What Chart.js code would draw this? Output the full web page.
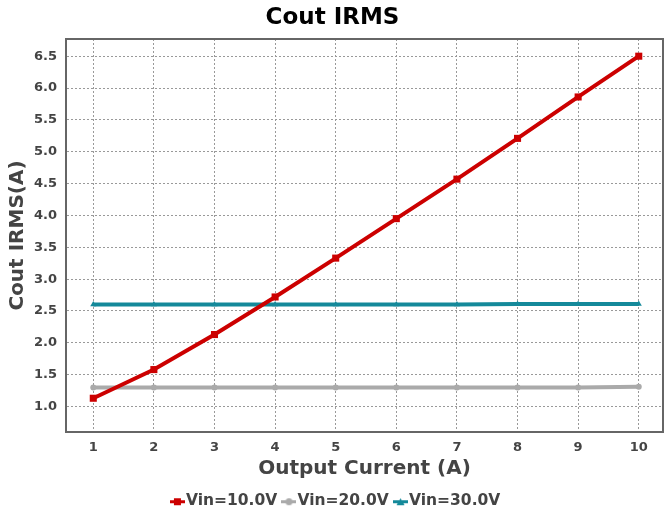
<!DOCTYPE html>
<html>
<head>
<meta charset="utf-8">
<script src="https://cdn.jsdelivr.net/npm/chart.js@4"></script>
<style>
  html, body { margin: 0; padding: 0; background: #fff; }
  #wrap { width: 664px; height: 515px; }
</style>
</head>
<body>
<div id="wrap"><canvas id="c"></canvas></div>
<script>
// 输出电流 (A)
const currents = [1, 2, 3, 4, 5, 6, 7, 8, 9, 10];
// 各输入电压下的输出电容 RMS 电流
const vin10 = [1.13, 1.58, 2.13, 2.72, 3.33, 3.95, 4.57, 5.21, 5.86, 6.50];
const vin20 = [1.30, 1.30, 1.30, 1.30, 1.30, 1.30, 1.30, 1.30, 1.30, 1.31];
const vin30 = [2.60, 2.60, 2.60, 2.60, 2.60, 2.60, 2.60, 2.61, 2.61, 2.61];
const yTicks = [1.0, 1.5, 2.0, 2.5, 3.0, 3.5, 4.0, 4.5, 5.0, 5.5, 6.0, 6.5];

const FONT = "'DejaVu Sans', sans-serif";
const INK = "#444";

function pts(ys) {
  return currents.map((x, i) => ({ x: x, y: ys[i] }));
}

// 图例图标:短线 + 中间的标记
function legendIcon(color, shape) {
  const cv = document.createElement("canvas");
  cv.width = 15; cv.height = 10;
  const g = cv.getContext("2d");
  g.fillStyle = color;
  g.fillRect(0, 4, 15, 3);
  if (shape === "rect") g.fillRect(4, 2, 7, 7);
  else if (shape === "circle") { g.beginPath(); g.arc(7.5, 5.5, 3.5, 0, Math.PI * 2); g.fill(); }
  else { g.beginPath(); g.moveTo(7.5, 2); g.lineTo(11.5, 9); g.lineTo(3.5, 9); g.closePath(); g.fill(); }
  return cv;
}

// 图区上边和右边的框线;图例整体右移一点
const frame = {
  id: "frame",
  afterLayout(chart) {
    chart.legend.left += 6;
    chart.legend.right += 6;
  },
  afterDraw(chart) {
    const a = chart.chartArea, ctx = chart.ctx;
    ctx.save();
    ctx.strokeStyle = "#666";
    ctx.lineWidth = 2;
    ctx.beginPath();
    ctx.moveTo(a.left, a.top);
    ctx.lineTo(a.right, a.top);
    ctx.lineTo(a.right, a.bottom);
    ctx.stroke();
    ctx.restore();
  },
};

const series = [
  { label: "Vin=10.0V", data: vin10, color: "#cc0000", shape: "rect", r: 5 },
  { label: "Vin=20.0V", data: vin20, color: "#aaaaaa", shape: "circle", r: 3 },
  { label: "Vin=30.0V", data: vin30, color: "#14899a", shape: "triangle", r: 3.5 },
];

const tickFont = { family: FONT, size: 13, weight: "bold" };
const axisFont = { family: FONT, size: 20, weight: "bold" };
const grid = { color: "#999", drawTicks: false, lineWidth: 1 };
const border = { color: "#666", width: 2, dash: [2, 2] };

new Chart(document.getElementById("c"), {
  type: "line",
  data: {
    datasets: series.map(s => ({
      label: s.label,
      data: pts(s.data),
      borderColor: s.color,
      backgroundColor: s.color,
      borderWidth: 4,
      pointStyle: s.shape,
      pointRadius: s.r,
      pointBorderWidth: 0,
      tension: 0,
      icon: legendIcon(s.color, s.shape),
    })),
  },
  options: {
    responsive: true,
    maintainAspectRatio: false,
    animation: false,
    layout: { autoPadding: false, padding: { left: 2, right: 1, top: 0, bottom: -4 } },
    scales: {
      x: {
        type: "linear",
        min: 0.55,
        max: 10.4,
        afterBuildTicks: ax => { ax.ticks = currents.map(v => ({ value: v })); },
        afterFit: ax => { ax.height = 50.5; ax.paddingLeft = 0; ax.paddingRight = 0; },
        ticks: { color: INK, font: tickFont, padding: 8 },
        grid: grid,
        border: border,
        title: { display: true, text: "Output Current (A)", color: INK, font: axisFont,
                 padding: { top: 0, bottom: 1.5 } },
      },
      y: {
        min: 0.6,
        max: 6.77,
        afterBuildTicks: ax => { ax.ticks = yTicks.map(v => ({ value: v })); },
        afterFit: ax => { ax.width = 64; },
        ticks: { color: INK, font: tickFont, padding: 9, callback: v => Number(v).toFixed(1) },
        grid: grid,
        border: border,
        title: { display: true, text: "Cout IRMS(A)", color: INK, font: axisFont,
                 padding: { top: 4, bottom: 0 } },
      },
    },
    plugins: {
      title: {
        display: true,
        text: "Cout IRMS",
        color: "#000",
        font: { family: FONT, size: 23, weight: "bold" },
        padding: { top: 4, bottom: 7.4 },
      },
      legend: {
        position: "bottom",
        labels: {
          color: INK,
          font: { family: FONT, size: 15.5, weight: "bold" },
          usePointStyle: true,
          pointStyleWidth: 1.5,
          boxHeight: 10,
          padding: 11,
          generateLabels: chart => chart.data.datasets.map((ds, i) => ({
            text: ds.label,
            fontColor: INK,
            pointStyle: ds.icon,
            datasetIndex: i,
            hidden: false,
            lineWidth: 0,
          })),
        },
      },
      tooltip: { enabled: false },
    },
  },
  plugins: [frame],
});
</script>
</body>
</html>
